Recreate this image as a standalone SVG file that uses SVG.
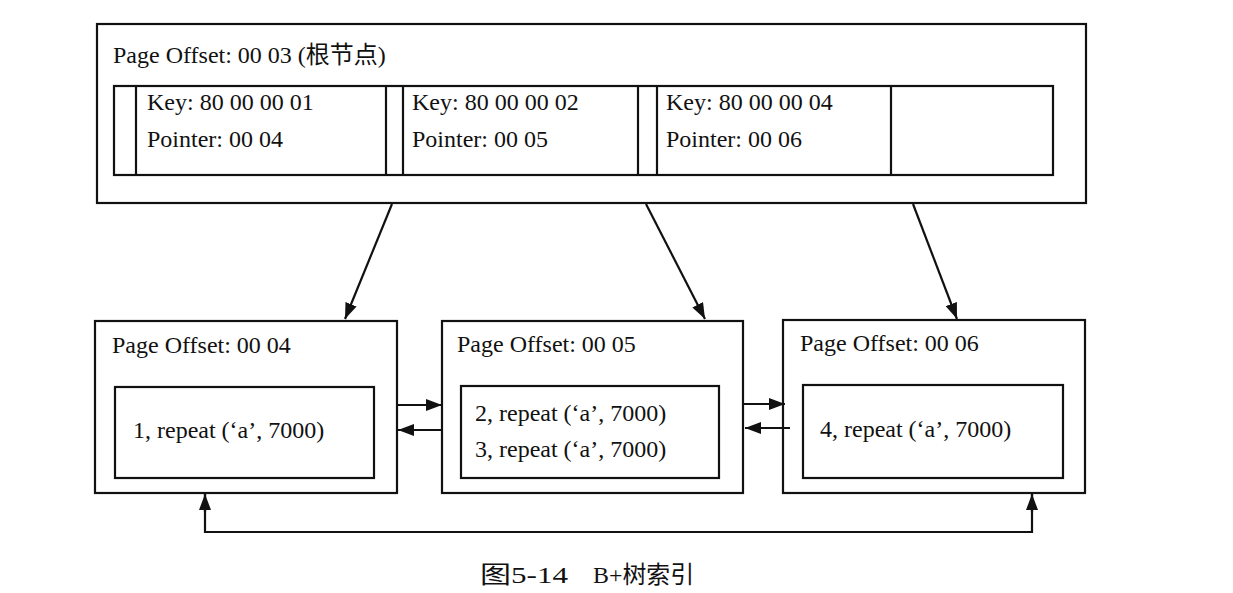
<svg xmlns="http://www.w3.org/2000/svg" width="1233" height="593" viewBox="0 0 1233 593">
<style>
  .box { fill: #ffffff; stroke: #111111; stroke-width: 2.2; }
  .ln { fill: none; stroke: #111111; stroke-width: 2.2; }
  .t { font-family: "Liberation Serif", "Noto Sans CJK SC", serif; font-size: 24px; fill: #111111; }
  .cap { font-family: "Liberation Serif", "Noto Sans CJK SC", serif; font-size: 24px; fill: #111111; }
</style>
<defs>
  <marker id="ah" viewBox="0 0 16 12" refX="16" refY="6" markerWidth="16" markerHeight="12" markerUnits="userSpaceOnUse" orient="auto">
    <path d="M0,0 L16,6 L0,12 Z" fill="#111111"/>
  </marker>
</defs>
<rect width="1233" height="593" fill="#ffffff"/>

<g id="root">
  <rect class="box" x="97" y="24" width="989" height="179"/>
  <text class="t" x="113" y="63">Page Offset: 00 03 (根节点)</text>
  <rect class="box" x="114" y="86" width="939" height="89"/>
  <line class="ln" x1="136" y1="86" x2="136" y2="175"/>
  <line class="ln" x1="386" y1="86" x2="386" y2="175"/>
  <line class="ln" x1="403" y1="86" x2="403" y2="175"/>
  <line class="ln" x1="638" y1="86" x2="638" y2="175"/>
  <line class="ln" x1="657" y1="86" x2="657" y2="175"/>
  <line class="ln" x1="891" y1="86" x2="891" y2="175"/>
  <text class="t" x="147" y="110">Key: 80 00 00 01</text>
  <text class="t" x="147" y="147">Pointer: 00 04</text>
  <text class="t" x="412" y="110">Key: 80 00 00 02</text>
  <text class="t" x="412" y="147">Pointer: 00 05</text>
  <text class="t" x="666" y="110">Key: 80 00 00 04</text>
  <text class="t" x="666" y="147">Pointer: 00 06</text>
</g>

<g id="page04">
  <rect class="box" x="95" y="321" width="302" height="172"/>
  <text class="t" x="112" y="353">Page Offset: 00 04</text>
  <rect class="box" x="115" y="387" width="259" height="91"/>
  <text class="t" x="133" y="438">1, repeat (‘a’, 7000)</text>
</g>

<g id="page05">
  <rect class="box" x="442" y="321" width="301" height="172"/>
  <text class="t" x="457" y="352">Page Offset: 00 05</text>
  <rect class="box" x="461" y="386" width="258" height="92"/>
  <text class="t" x="475" y="421">2, repeat (‘a’, 7000)</text>
  <text class="t" x="475" y="457">3, repeat (‘a’, 7000)</text>
</g>

<g id="page06">
  <rect class="box" x="783" y="320" width="302" height="173"/>
  <text class="t" x="800" y="351">Page Offset: 00 06</text>
  <rect class="box" x="803" y="385" width="260" height="93"/>
  <text class="t" x="820" y="437">4, repeat (‘a’, 7000)</text>
</g>

<g id="connectors">
  <line class="ln" x1="392" y1="204" x2="345" y2="319" marker-end="url(#ah)"/>
  <line class="ln" x1="646" y1="204" x2="705" y2="319" marker-end="url(#ah)"/>
  <line class="ln" x1="913" y1="204" x2="957" y2="319" marker-end="url(#ah)"/>
  <line class="ln" x1="398" y1="405" x2="442" y2="405" marker-end="url(#ah)"/>
  <line class="ln" x1="442" y1="430" x2="398" y2="430" marker-end="url(#ah)"/>
  <line class="ln" x1="744" y1="404" x2="785" y2="404" marker-end="url(#ah)"/>
  <line class="ln" x1="790" y1="428" x2="745" y2="428" marker-end="url(#ah)"/>
  <polyline class="ln" points="205,494 205,532 1032,532 1032,494"/>
  <line class="ln" x1="205" y1="512" x2="205" y2="494" marker-end="url(#ah)"/>
  <line class="ln" x1="1032" y1="512" x2="1032" y2="494" marker-end="url(#ah)"/>
</g>

<g id="caption">
  <text class="cap" x="480" y="583" textLength="88" lengthAdjust="spacingAndGlyphs">图5-14</text>
  <text class="cap" x="593" y="583" textLength="101" lengthAdjust="spacingAndGlyphs">B+树索引</text>
</g>
</svg>
